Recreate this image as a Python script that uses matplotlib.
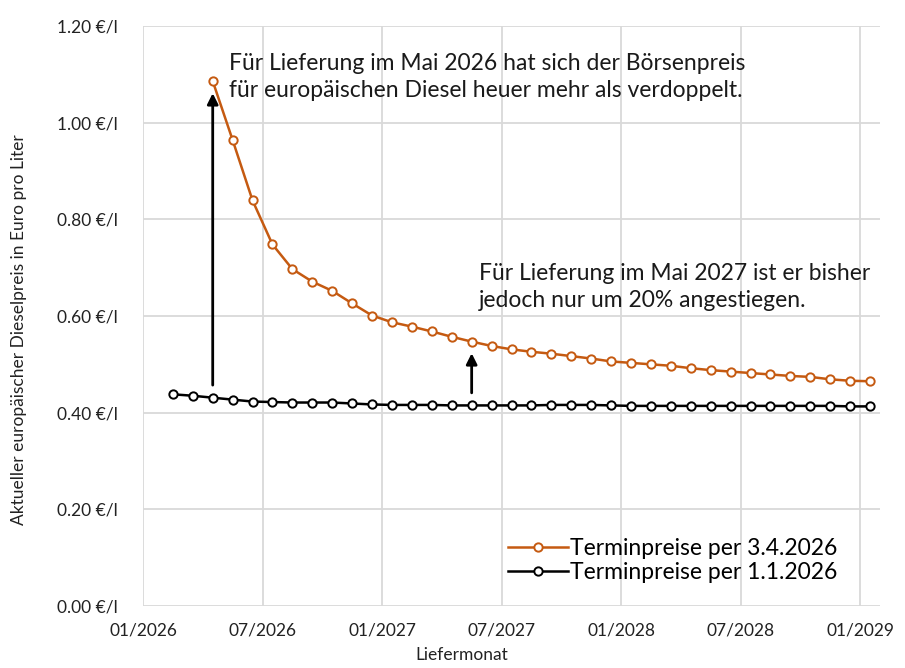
import matplotlib
matplotlib.use("Agg")
import matplotlib.pyplot as plt

plt.rcParams['font.family'] = ['Lato', 'DejaVu Sans']

# Month offsets from 01/2026 (mid-month positions)
black_months = [m + 0.5 for m in range(1, 37)]   # Feb 2026 .. Jan 2029
orange_months = [m + 0.5 for m in range(3, 37)]  # Apr 2026 .. Jan 2029

orange_values = [1.086, 0.964, 0.839, 0.748, 0.697, 0.671, 0.652, 0.626, 0.601, 0.587,
                 0.578, 0.568, 0.557, 0.547, 0.538, 0.531, 0.526, 0.522, 0.517, 0.512,
                 0.506, 0.503, 0.500, 0.497, 0.492, 0.488, 0.485, 0.482, 0.479, 0.476,
                 0.474, 0.469, 0.466, 0.465]
black_values = [0.438, 0.435, 0.431, 0.427, 0.423, 0.422, 0.421, 0.421, 0.421, 0.419,
                0.417, 0.416, 0.416, 0.416, 0.415, 0.415, 0.415, 0.415, 0.415, 0.416,
                0.416, 0.416, 0.415, 0.414, 0.414, 0.414, 0.414, 0.414, 0.414, 0.414,
                0.414, 0.414, 0.414, 0.414, 0.413, 0.413]

x_ticks = [0, 6, 12, 18, 24, 30, 36]
x_tick_labels = ['01/2026', '07/2026', '01/2027', '07/2027', '01/2028', '07/2028', '01/2029']
y_ticks = [0.0, 0.2, 0.4, 0.6, 0.8, 1.0, 1.2]
y_tick_labels = ['0.00 €/l', '0.20 €/l', '0.40 €/l', '0.60 €/l', '0.80 €/l', '1.00 €/l', '1.20 €/l']

series_labels = ['Terminpreise per 3.4.2026', 'Terminpreise per 1.1.2026']
note1 = 'Für Lieferung im Mai 2026 hat sich der Börsenpreis\nfür europäischen Diesel heuer mehr als verdoppelt.'
note2 = 'Für Lieferung im Mai 2027 ist er bisher\njedoch nur um 20% angestiegen.'

orange = '#c55a11'
grid_c = '#d9d9d9'
text_c = '#1a1a1a'

fig = plt.figure(figsize=(9.05, 6.68), dpi=100)
ax = fig.add_axes([143/905, 1 - 606/668, (880-143)/905, (606-26)/668])

ax.plot(orange_months, orange_values, color=orange, lw=1.8, marker='o', ms=6,
        mfc='white', mec=orange, mew=1.4, label=series_labels[0], zorder=3)
ax.plot(black_months, black_values, color='black', lw=1.8, marker='o', ms=6,
        mfc='white', mec='black', mew=1.4, label=series_labels[1], zorder=3)

ax.set_xlim(0, 37)
ax.set_ylim(0, 1.2)
ax.set_xticks(x_ticks)
ax.set_xticklabels(x_tick_labels)
ax.set_yticks(y_ticks)
ax.set_yticklabels(y_tick_labels)
ax.tick_params(length=0, labelsize=12.5, colors='#222222', pad=12)
ax.tick_params(axis='y', pad=18)
ax.grid(True, color=grid_c, lw=1.3)
ax.set_axisbelow(True)
for s in ax.spines.values():
    s.set_visible(False)

ax.set_ylabel('Aktueller europäischer Dieselpreis in Euro pro Liter', fontsize=12.5, color='#222222')
ax.yaxis.set_label_coords((27-143)/737, 0.476)
ax.set_xlabel('Liefermonat', fontsize=12.5, color='#222222')
ax.xaxis.set_label_coords((462-143)/737, -0.071)

# arrows
ax.annotate('', xy=(orange_months[0], 1.061), xytext=(orange_months[0], 0.457),
            arrowprops=dict(arrowstyle='-|>', color='black', lw=2, mutation_scale=16,
                            shrinkA=0, shrinkB=0))
ax.annotate('', xy=(orange_months[13], 0.523), xytext=(orange_months[13], 0.441),
            arrowprops=dict(arrowstyle='-|>', color='black', lw=2, mutation_scale=16,
                            shrinkA=0, shrinkB=0))

ax.text((229-143)/737, 1 - (77 - 26)/580, note1, transform=ax.transAxes, fontsize=16.5,
        va='center', ha='left', color=text_c, linespacing=1.4)
ax.text((479-143)/737, 1 - (287 - 26)/580, note2, transform=ax.transAxes, fontsize=16.5,
        va='center', ha='left', color=text_c, linespacing=1.4)

leg = ax.legend(loc='lower left', bbox_to_anchor=((508-143)/737, (606-583)/580),
                frameon=False, fontsize=16.5, handlelength=2.6, handletextpad=0.1,
                labelspacing=0.15, borderpad=0, borderaxespad=0)

fig.savefig('out.png', dpi=100, facecolor='white')
